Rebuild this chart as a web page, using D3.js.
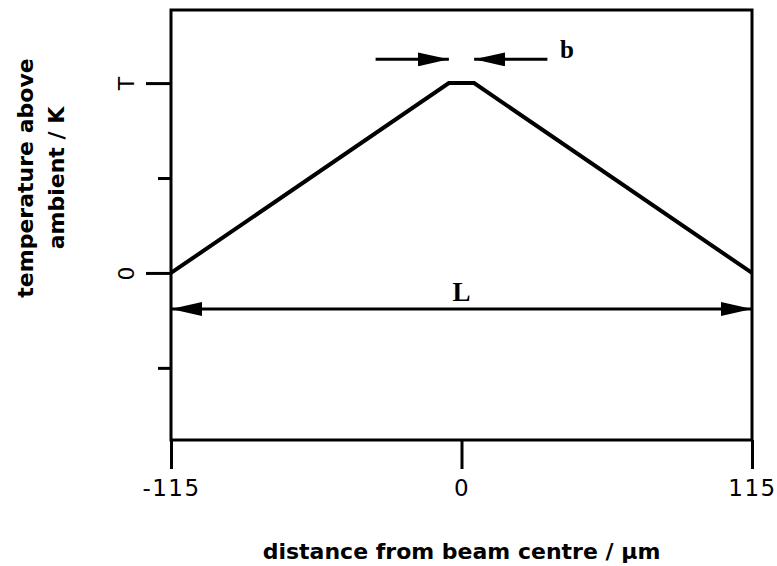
<!DOCTYPE html>
<html>
<head>
<meta charset="utf-8">
<script src="https://cdn.jsdelivr.net/npm/d3@7"></script>
<style>
  html, body { margin: 0; padding: 0; background: #fff; }
  svg { display: block; }
</style>
</head>
<body>
<script>
// Trapezoidal temperature profile across the beam
const profileX = [-115, -5, 5, 115];       // distance from beam centre / µm
const profileT = [0, 1, 1, 0];             // temperature above ambient, in units of T

const xTickValues = [-115, 0, 115];
const xTickLabels = ["-115", "0", "115"];
const yMajorTicks = [0, 1];
const yMajorLabels = ["0", "T"];
const yMinorTicks = [-0.5, 0.5];

// Dimension annotations: beam width b and path length L
const bArrowTails = [-34, 34];
const bArrowTips = [-5, 5];
const bArrowLevel = 1.125;
const lArrowEnds = [-115, 115];
const lArrowLevel = -0.19;

const W = 777, H = 566;
const svg = d3.select("body").append("svg").attr("width", W).attr("height", H);

const x = d3.scaleLinear().domain([-115, 115]).range([171, 752]);
const y = d3.scaleLinear().domain([-0.88, 1.385]).range([440, 10]);

const sansBold = "'DejaVu Sans', sans-serif";

// arrowhead marker
const defs = svg.append("defs");
defs.append("marker")
  .attr("id", "head")
  .attr("markerUnits", "userSpaceOnUse")
  .attr("viewBox", "0 0 31 14")
  .attr("refX", 31).attr("refY", 7)
  .attr("markerWidth", 31).attr("markerHeight", 14)
  .attr("orient", "auto-start-reverse")
  .append("path")
  .attr("d", "M0,0 L31,7 L0,14 Z")
  .attr("fill", "#000");

// plot frame
svg.append("rect")
  .attr("x", x(-115)).attr("y", y(1.385))
  .attr("width", x(115) - x(-115)).attr("height", y(-0.88) - y(1.385))
  .attr("fill", "none").attr("stroke", "#000").attr("stroke-width", 3);

// bottom axis
const xAxis = svg.append("g")
  .attr("transform", `translate(0,${y(-0.88)})`)
  .call(d3.axisBottom(x).tickValues(xTickValues)
    .tickFormat((d, i) => xTickLabels[i]).tickSize(29).tickPadding(11));
xAxis.select(".domain").remove();
xAxis.selectAll(".tick line").attr("stroke", "#000").attr("stroke-width", 3);
xAxis.selectAll(".tick text")
  .attr("fill", "#000")
  .style("font-family", "'DejaVu Sans', sans-serif")
  .style("font-size", "23px")
  .style("letter-spacing", "1.5px");

// left axis: major ticks with labels
const yAxis = svg.append("g")
  .attr("transform", `translate(${x(-115)},0)`)
  .call(d3.axisLeft(y).tickValues(yMajorTicks)
    .tickFormat((d, i) => yMajorLabels[i]).tickSize(25).tickPadding(0));
yAxis.select(".domain").remove();
yAxis.selectAll(".tick line").attr("stroke", "#000").attr("stroke-width", 3);
yAxis.selectAll(".tick text")
  .attr("x", null).attr("dy", null)
  .attr("text-anchor", "middle")
  .attr("dominant-baseline", "central")
  .attr("transform", "translate(-45,0) rotate(-90)")
  .attr("fill", "#000")
  .style("font-family", "'DejaVu Sans', sans-serif")
  .style("font-size", "22px");

// left axis: minor ticks
const yMinor = svg.append("g")
  .attr("transform", `translate(${x(-115)},0)`)
  .call(d3.axisLeft(y).tickValues(yMinorTicks).tickFormat("").tickSize(13));
yMinor.select(".domain").remove();
yMinor.selectAll(".tick line").attr("stroke", "#000").attr("stroke-width", 3);

// temperature profile
const line = d3.line().x((d, i) => x(profileX[i])).y((d, i) => y(profileT[i]));
svg.append("path")
  .datum(profileX)
  .attr("d", line)
  .attr("fill", "none")
  .attr("stroke", "#000")
  .attr("stroke-width", 4)
  .attr("stroke-linejoin", "miter");

// b: two arrows pointing inward at the plateau edges
bArrowTails.forEach((t, i) => {
  svg.append("line")
    .attr("x1", x(t)).attr("y1", y(bArrowLevel))
    .attr("x2", x(bArrowTips[i])).attr("y2", y(bArrowLevel))
    .attr("stroke", "#000").attr("stroke-width", 3)
    .attr("marker-end", "url(#head)");
});
svg.append("text")
  .attr("x", 567).attr("y", y(bArrowLevel) - 1)
  .attr("text-anchor", "middle")
  .style("font-family", "'Liberation Serif', serif")
  .style("font-weight", "bold")
  .style("font-size", "25px")
  .text("b");

// L: double-headed arrow spanning the full width
svg.append("line")
  .attr("x1", x(lArrowEnds[0])).attr("y1", y(lArrowLevel))
  .attr("x2", x(lArrowEnds[1])).attr("y2", y(lArrowLevel))
  .attr("stroke", "#000").attr("stroke-width", 3)
  .attr("marker-start", "url(#head)")
  .attr("marker-end", "url(#head)");
svg.append("text")
  .attr("x", x(0)).attr("y", y(lArrowLevel) - 8)
  .attr("text-anchor", "middle")
  .style("font-family", "'Liberation Serif', serif")
  .style("font-weight", "bold")
  .style("font-size", "27px")
  .text("L");

// axis titles
svg.append("text")
  .attr("x", x(0)).attr("y", 559)
  .attr("text-anchor", "middle")
  .style("font-family", sansBold)
  .style("font-weight", "bold")
  .style("font-size", "22px")
  .text("distance from beam centre / µm");

const yTitle = svg.append("text")
  .attr("transform", "translate(25,178) rotate(-90)")
  .attr("text-anchor", "middle")
  .style("font-family", sansBold)
  .style("font-weight", "bold")
  .style("font-size", "22px");
yTitle.append("tspan").attr("x", 0).attr("y", 0).attr("dy", "0.35em").text("temperature above");
yTitle.append("tspan").attr("x", 0).attr("y", 0).attr("dy", "1.75em").text("ambient / K");
</script>
</body>
</html>
